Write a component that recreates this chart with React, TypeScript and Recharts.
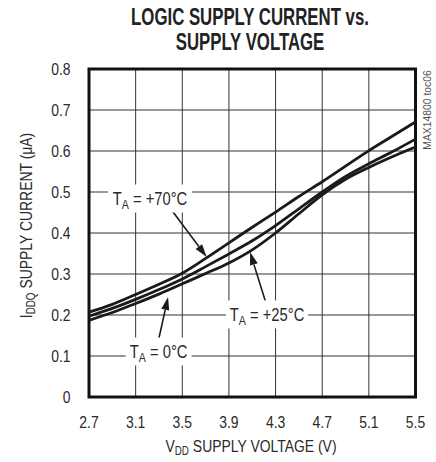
import React from 'react';
import {
  LineChart,
  Line,
  XAxis,
  YAxis,
  CartesianGrid,
  ReferenceArea,
  ReferenceDot,
  ReferenceLine,
} from 'recharts';

const voltage = [2.7, 2.9, 3.1, 3.3, 3.5, 3.7, 3.9, 4.1, 4.3, 4.5, 4.7, 4.9, 5.1, 5.3, 5.5];
const i70 = [0.207, 0.226, 0.25, 0.275, 0.302, 0.338, 0.376, 0.414, 0.451, 0.489, 0.525, 0.563, 0.601, 0.636, 0.671];
const i25 = [0.197, 0.216, 0.238, 0.262, 0.288, 0.318, 0.349, 0.381, 0.418, 0.459, 0.5, 0.538, 0.569, 0.598, 0.629];
const i0 = [0.187, 0.206, 0.228, 0.251, 0.276, 0.301, 0.327, 0.359, 0.4, 0.447, 0.493, 0.531, 0.56, 0.586, 0.61];

const xTicks = [2.7, 3.1, 3.5, 3.9, 4.3, 4.7, 5.1, 5.5];
const yTicks = [0, 0.1, 0.2, 0.3, 0.4, 0.5, 0.6, 0.7, 0.8];

const labelNames = ['+70°C', '0°C', '+25°C'];
const labelX = [3.223, 3.297, 4.227];
const labelY = [0.484, 0.111, 0.2015];
const labelBoxW = [84, 66, 82];

const arrowTail = [
  { x: 3.403, y: 0.458 },
  { x: 3.294, y: 0.136 },
  { x: 4.224, y: 0.2235 },
];
const arrowTip = [
  { x: 3.709, y: 0.3415 },
  { x: 3.378, y: 0.244 },
  { x: 4.081, y: 0.3537 },
];

const data = voltage.map((v, i) => ({ v, t70: i70[i], t25: i25[i], t0: i0[i] }));

const FONT = '"Liberation Sans", Arial, Helvetica, sans-serif';
const INK = '#1a1a1a';
const TXT = '#2a2a2a';
const SX = 0.82;

const ArrowShape = (props: any) => {
  const { x1, y1, x2, y2 } = props;
  const dx = x2 - x1;
  const dy = y2 - y1;
  const len = Math.sqrt(dx * dx + dy * dy) || 1;
  const ux = dx / len;
  const uy = dy / len;
  const hl = 13;
  const hw = 4;
  const bx = x2 - ux * hl;
  const by = y2 - uy * hl;
  const px = -uy;
  const py = ux;
  return (
    <g>
      <line x1={x1} y1={y1} x2={bx} y2={by} stroke={INK} strokeWidth={1.6} />
      <polygon
        points={`${x2},${y2} ${bx + px * hw},${by + py * hw} ${bx - px * hw},${by - py * hw}`}
        fill={INK}
      />
    </g>
  );
};

const makeLabel = (idx: number) => (props: any) => {
  const { cx, cy } = props;
  const w = labelBoxW[idx];
  return (
    <g>
      <rect x={cx - w / 2} y={cy - 14} width={w} height={28} fill="#ffffff" stroke="none" />
      <g transform={`translate(${cx} ${cy + 6.5}) scale(${SX} 1)`}>
        <text x={0} y={0} textAnchor="middle" fontFamily={FONT} fontSize={18} fill={TXT}>
          T
          <tspan fontSize={13} dy={4}>
            A
          </tspan>
          <tspan dy={-4}>{` = ${labelNames[idx]}`}</tspan>
        </text>
      </g>
    </g>
  );
};

const XTick = (props: any) => {
  const { x, y, payload } = props;
  return (
    <g transform={`translate(${x} ${y + 12}) scale(${SX} 1)`}>
      <text x={0} y={0} textAnchor="middle" fontFamily={FONT} fontSize={17} fill={TXT}>
        {Number(payload.value).toFixed(1)}
      </text>
    </g>
  );
};

const YTick = (props: any) => {
  const { x, y, payload } = props;
  const v = Number(payload.value);
  return (
    <g transform={`translate(${x} ${y + 6}) scale(${SX} 1)`}>
      <text x={0} y={0} textAnchor="end" fontFamily={FONT} fontSize={17} fill={TXT}>
        {v === 0 ? '0' : v.toFixed(1)}
      </text>
    </g>
  );
};

export default function App() {
  return (
    <div style={{ position: 'absolute', left: 0, top: 0, width: 436, height: 462, background: '#ffffff' }}>
      <LineChart
        width={436}
        height={462}
        data={data}
        margin={{ top: 69, right: 20.5, bottom: 0, left: 0 }}
      >
        <CartesianGrid stroke="#333333" strokeWidth={1} />
        <XAxis
          dataKey="v"
          type="number"
          domain={[2.7, 5.5]}
          ticks={xTicks}
          axisLine={false}
          tickLine={false}
          tickSize={0}
          tickMargin={18.5}
          height={65}
          tick={<XTick />}
          interval={0}
        />
        <YAxis
          type="number"
          domain={[0, 0.8]}
          ticks={yTicks}
          axisLine={false}
          tickLine={false}
          tickSize={0}
          tickMargin={18.5}
          width={89}
          tick={<YTick />}
          interval={0}
        />
        <Line type="monotone" dataKey="t70" stroke={INK} strokeWidth={2.8} dot={false} isAnimationActive={false} />
        <Line type="monotone" dataKey="t25" stroke={INK} strokeWidth={2.8} dot={false} isAnimationActive={false} />
        <Line type="monotone" dataKey="t0" stroke={INK} strokeWidth={2.8} dot={false} isAnimationActive={false} />
        {labelNames.map((_, i) => (
          <ReferenceDot
            key={`lab${i}`}
            x={labelX[i]}
            y={labelY[i]}
            r={1}
            ifOverflow="visible"
            shape={makeLabel(i)}
          />
        ))}
        {labelNames.map((_, i) => (
          <ReferenceLine
            key={`arr${i}`}
            segment={[arrowTail[i], arrowTip[i]]}
            ifOverflow="visible"
            stroke={INK}
            shape={ArrowShape}
          />
        ))}
        <ReferenceArea
          x1={2.7}
          x2={5.5}
          y1={0}
          y2={0.8}
          fill="none"
          fillOpacity={0}
          stroke="#111111"
          strokeWidth={3}
          ifOverflow="visible"
        />
      </LineChart>
      <svg
        width={436}
        height={462}
        style={{ position: 'absolute', left: 0, top: 0, pointerEvents: 'none' }}
      >
        <g transform="translate(250 25) scale(0.73 1)">
          <text x={0} y={0} textAnchor="middle" fontFamily={FONT} fontWeight="bold" fontSize={23} fill="#222222">
            LOGIC SUPPLY CURRENT vs.
          </text>
        </g>
        <g transform="translate(250 50) scale(0.73 1)">
          <text x={0} y={0} textAnchor="middle" fontFamily={FONT} fontWeight="bold" fontSize={23} fill="#222222">
            SUPPLY VOLTAGE
          </text>
        </g>
        <g transform={`translate(251 452) scale(${SX} 1)`}>
          <text x={0} y={0} textAnchor="middle" fontFamily={FONT} fontSize={17} fill={TXT}>
            V
            <tspan fontSize={12} dy={3}>
              DD
            </tspan>
            <tspan dy={-3}> SUPPLY VOLTAGE (V)</tspan>
          </text>
        </g>
        <g transform={`translate(32 225.5) rotate(-90) scale(${SX} 1)`}>
          <text x={0} y={0} textAnchor="middle" fontFamily={FONT} fontSize={17} fill={TXT}>
            I
            <tspan fontSize={12} dy={3}>
              DDQ
            </tspan>
            <tspan dy={-3}> SUPPLY CURRENT (μA)</tspan>
          </text>
        </g>
        <g transform="translate(431 110) rotate(-90) scale(0.9 1)">
          <text x={0} y={0} textAnchor="middle" fontFamily={FONT} fontSize={11.5} fill="#555555">
            MAX14800 toc06
          </text>
        </g>
      </svg>
    </div>
  );
}
